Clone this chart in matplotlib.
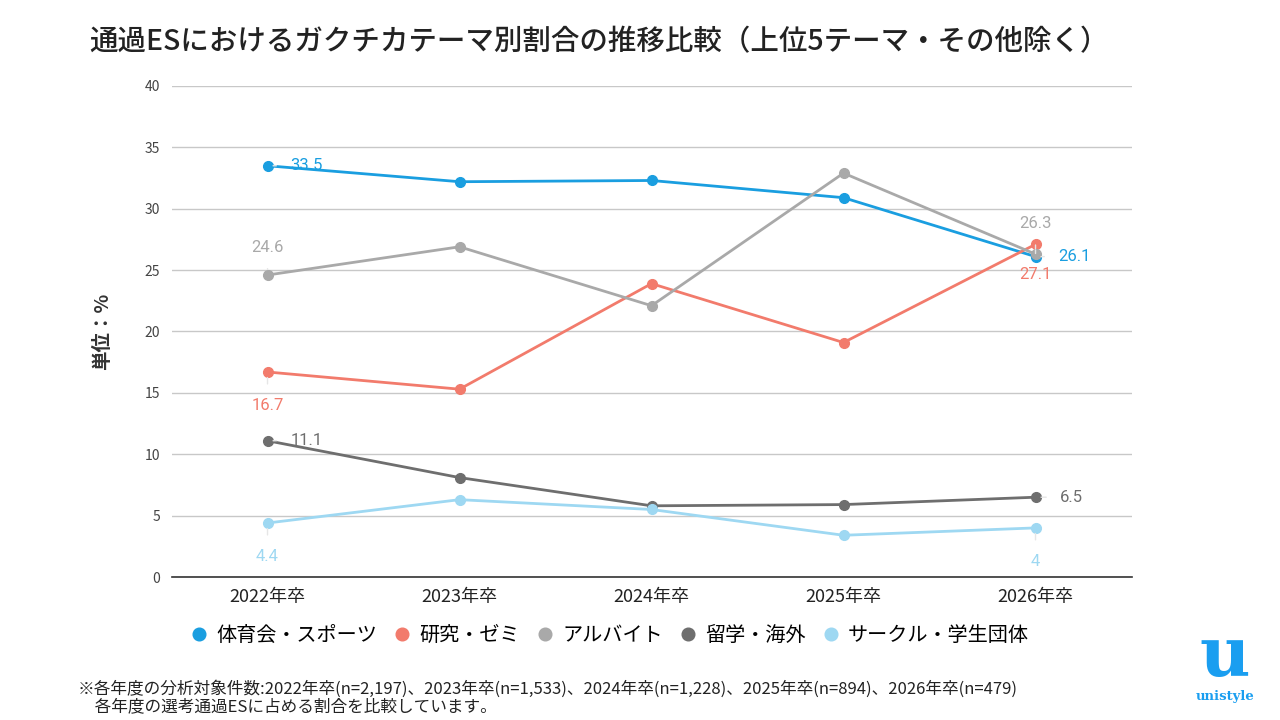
import matplotlib.pyplot as plt

plt.rcParams['font.family'] = ['Noto Sans CJK JP', 'DejaVu Sans']

years = ['2022年卒', '2023年卒', '2024年卒', '2025年卒', '2026年卒']
sports = [33.5, 32.2, 32.3, 30.9, 26.1]
research = [16.7, 15.3, 23.9, 19.1, 27.1]
parttime = [24.6, 26.9, 22.1, 32.9, 26.3]
abroad = [11.1, 8.1, 5.8, 5.9, 6.5]
circle = [4.4, 6.3, 5.5, 3.4, 4.0]

names = ['体育会・スポーツ', '研究・ゼミ', 'アルバイト', '留学・海外', 'サークル・学生団体']
series = [sports, research, parttime, abroad, circle]
colors = ['#1a9ee0', '#f27b6c', '#a9a9a9', '#6e6e6e', '#9ed8f2']
# where the first / last value label goes: (dx, dy) in points
first_pos = [(28, 0), (0, -24), (0, 20), (28, 0), (0, -24)]
last_pos = [(28, 0), (0, -22), (0, 22), (26, 0), (0, -24)]

fig = plt.figure(figsize=(12.8, 7.2), dpi=100)
ax = fig.add_axes([0.134, 0.1986, 0.75, 0.682])

x = list(range(len(years)))
for vals, name, c, fp, lp in zip(series, names, colors, first_pos, last_pos):
    ax.plot(x, vals, color=c, lw=2, marker='o', ms=7, label=name, zorder=3)
    for i, (dx, dy) in ((0, fp), (len(x) - 1, lp)):
        lab = ('%g' % vals[i])
        ax.annotate(lab, (x[i], vals[i]), xytext=(dx, dy), textcoords='offset points',
                    ha='center', va='center', fontsize=12, color=c,
                    family=['Roboto', 'DejaVu Sans'], zorder=4,
                    arrowprops=dict(arrowstyle='-', color='#e6e6e6', lw=1, shrinkA=8, shrinkB=4))

ax.set_xlim(-0.5, 4.5)
ax.set_ylim(0, 40)
ax.set_yticks(range(0, 41, 5))
ax.set_xticks(x)
ax.set_xticklabels(years, fontsize=13, color='#222222')
ax.tick_params(axis='y', labelsize=10, colors='#444444', length=0, pad=8)
ax.tick_params(axis='x', length=0, pad=8)
ax.grid(axis='y', color='#c8c8c8', lw=1)
ax.set_axisbelow(True)
for s in ['top', 'right', 'left']:
    ax.spines[s].set_visible(False)
ax.spines['bottom'].set_color('#333333')
ax.spines['bottom'].set_linewidth(1.2)
ax.set_ylabel('単位：%', fontsize=14, color='#333333', fontweight='bold', labelpad=24)

leg = fig.legend(*ax.get_legend_handles_labels(), loc='center', bbox_to_anchor=(0.477, 0.117),
                 ncol=5, frameon=False, fontsize=14.5, handlelength=0.7, handletextpad=0.5,
                 columnspacing=0.9, markerscale=1.3)
for h in leg.get_lines():
    h.set_linestyle('none')

fig.text(0.07, 0.942, '通過ESにおけるガクチカテーマ別割合の推移比較（上位5テーマ・その他除く）',
         fontsize=20.5, color='#222222', va='center', fontweight='medium')

fig.text(0.061, 0.031,
         '※各年度の分析対象件数:2022年卒(n=2,197)、2023年卒(n=1,533)、2024年卒(n=1,228)、2025年卒(n=894)、2026年卒(n=479)\n'
         '　各年度の選考通過ESに占める割合を比較しています。',
         fontsize=12, color='#222222', va='center', linespacing=1.05)

# logo
fig.text(0.957, 0.088, 'u', fontsize=50, fontweight='bold', color='#1a9ef0',
         ha='center', va='center', family=['DejaVu Serif'])
fig.text(0.957, 0.032, 'unistyle', fontsize=9.5, fontweight='bold', color='#1a9ef0',
         ha='center', va='center', family=['DejaVu Serif'])

fig.savefig('out.png', dpi=100)
